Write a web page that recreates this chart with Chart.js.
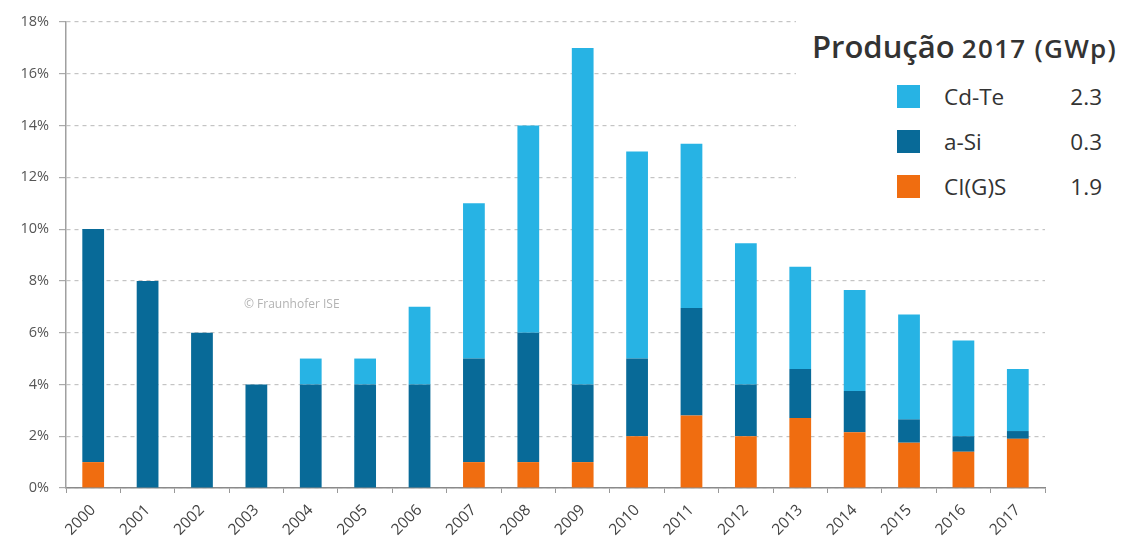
<!DOCTYPE html>
<html>
<head>
<meta charset="utf-8">
<script src="https://cdn.jsdelivr.net/npm/chart.js@4.4.1/dist/chart.umd.min.js"></script>
<style>
  html, body { margin: 0; padding: 0; background: #fff; }
  #wrap { position: relative; width: 1130px; height: 545px; font-family: "Open Sans", "Noto Sans", sans-serif; }
  #c { position: absolute; left: 0; top: 0; z-index: 1; }
  #legend { position: absolute; left: 796px; top: 14px; width: 334px; height: 200px; background: #fff; color: #333; z-index: 3; line-height: 1; }
  #legend .title { position: absolute; left: 16px; top: 17px; white-space: nowrap; font-weight: 600; }
  #legend .title .a { font-size: 31px; }
  #legend .title .b { font-size: 26px; letter-spacing: 1.3px; margin-left: 3px; }
  #legend .row { position: absolute; left: 101px; height: 24px; width: 205px; }
  #legend .sw { position: absolute; left: 0; top: 0; width: 23px; height: 23px; }
  #legend .lab { position: absolute; left: 47px; top: 1px; font-size: 22.5px; }
  #legend .val { position: absolute; right: 0; top: 1px; font-size: 22.5px; }
  #wm { position: absolute; left: 244px; top: 298px; font-size: 12px; line-height: 1; color: #b3b3b3; z-index: 2; white-space: nowrap; }
</style>
</head>
<body>
<div id="wrap">
  <canvas id="c" width="1130" height="545"></canvas>
  <div id="wm">© Fraunhofer ISE</div>
  <div id="legend"></div>
</div>
<script>
const categories = ["2000","2001","2002","2003","2004","2005","2006","2007","2008","2009","2010","2011","2012","2013","2014","2015","2016","2017"];
const cigs = [1, 0, 0, 0, 0, 0, 0, 1, 1, 1, 2, 2.8, 2, 2.7, 2.15, 1.75, 1.4, 1.9];
const aSi  = [9, 8, 6, 4, 4, 4, 4, 4, 5, 3, 3, 4.15, 2, 1.9, 1.6, 0.9, 0.6, 0.3];
const cdTe = [0, 0, 0, 0, 1, 1, 3, 6, 8, 13, 8, 6.35, 5.45, 3.95, 3.9, 4.05, 3.7, 2.4];
const yTicks = [0, 2, 4, 6, 8, 10, 12, 14, 16, 18];
const legendTitle = ["Produção", "2017 (GWp)"];
const legendItems = [
  { label: "Cd-Te", value: "2.3" },
  { label: "a-Si", value: "0.3" },
  { label: "CI(G)S", value: "1.9" }
];
const colors = { cdTe: "#27b3e4", aSi: "#086a98", cigs: "#f06d10" };

// Legend (HTML overlay)
const lg = document.getElementById('legend');
lg.innerHTML = '<div class="title"><span class="a">' + legendTitle[0] + '</span> <span class="b">' + legendTitle[1] + '</span></div>';
const swColors = [colors.cdTe, colors.aSi, colors.cigs];
const rowTops = [71, 116, 161];
legendItems.forEach((it, i) => {
  const r = document.createElement('div');
  r.className = 'row';
  r.style.top = rowTops[i] + 'px';
  r.innerHTML = '<div class="sw" style="background:' + swColors[i] + '"></div><div class="lab">' + it.label + '</div><div class="val">' + it.value + '</div>';
  lg.appendChild(r);
});

const barOpts = { barPercentage: 0.8, categoryPercentage: 0.5 };
new Chart(document.getElementById('c'), {
  type: 'bar',
  data: {
    labels: categories,
    datasets: [
      Object.assign({ label: 'CI(G)S', data: cigs, backgroundColor: colors.cigs }, barOpts),
      Object.assign({ label: 'a-Si', data: aSi, backgroundColor: colors.aSi }, barOpts),
      Object.assign({ label: 'Cd-Te', data: cdTe, backgroundColor: colors.cdTe }, barOpts)
    ]
  },
  options: {
    responsive: false,
    animation: false,
    layout: { padding: { left: 0, right: 85, top: 22, bottom: 0 } },
    plugins: { legend: { display: false }, tooltip: { enabled: false } },
    scales: {
      x: {
        stacked: true,
        grid: { display: true, offset: true, drawOnChartArea: false, drawTicks: true, tickLength: 5, color: '#999' },
        border: { display: true, color: '#8a8a8a', width: 1.5 },
        ticks: { color: '#444', font: { family: 'Open Sans', size: 15.5 }, maxRotation: 45, minRotation: 45, padding: 8 },
        afterFit: (s) => { s.height = 57; }
      },
      y: {
        stacked: true,
        min: 0, max: 18,
        afterBuildTicks: (s) => { s.ticks = yTicks.map(v => ({ value: v })); },
        grid: { color: '#c4c4c4', lineWidth: 1.2, drawTicks: true, tickLength: 7, tickColor: '#aaa', tickBorderDash: [7, 0] },
        border: { display: true, color: '#a0a0a0', width: 1.5, dash: [4, 4] },
        ticks: { color: '#555', font: { family: 'Open Sans', size: 14.5 }, padding: 10, callback: (v) => v + '%' },
        afterFit: (s) => { s.width = 66; }
      }
    }
  }
});
</script>
</body>
</html>
